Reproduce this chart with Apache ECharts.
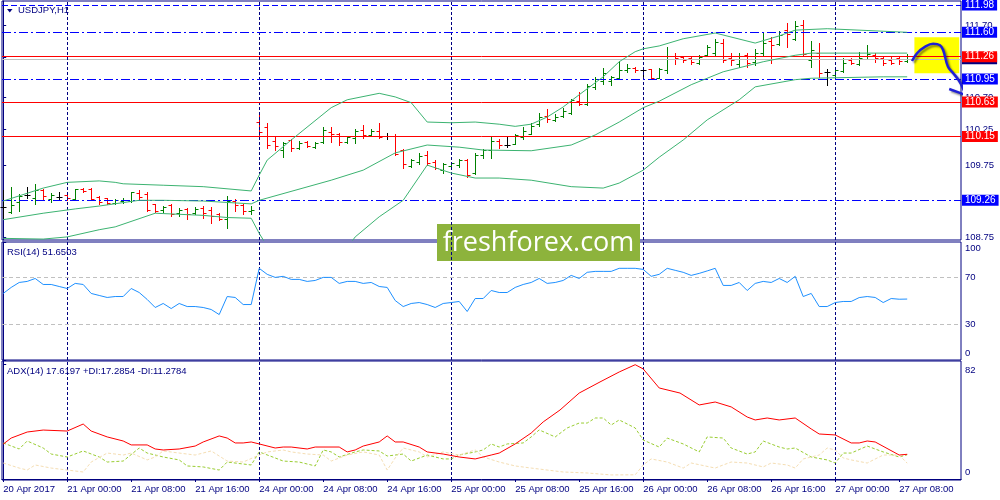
<!DOCTYPE html>
<html><head><meta charset="utf-8">
<script src="https://cdn.jsdelivr.net/npm/echarts@6/dist/echarts.min.js"></script>
<style>html,body{margin:0;padding:0;background:#fff}#c{width:1000px;height:500px}</style>
</head><body><div id="c"></div>
<script>
// ---------- DATA ----------
const tickIdx = [0,8,16,24,32,40,48,56,64,72,80,88,96,104,112];
const tickLabels = ['20 Apr 2017','21 Apr 00:00','21 Apr 08:00','21 Apr 16:00','24 Apr 00:00','24 Apr 08:00','24 Apr 16:00','25 Apr 00:00','25 Apr 08:00','25 Apr 16:00','26 Apr 00:00','26 Apr 08:00','26 Apr 16:00','27 Apr 00:00','27 Apr 08:00'];
const daySeparators = [8,32,56,80,104];

const opens = [109.17,109.10,109.24,109.33,109.29,109.40,109.28,109.31,109.33,109.28,
109.42,109.42,109.31,109.29,109.22,109.25,109.25,109.36,109.35,109.21,
109.12,109.19,109.08,109.14,109.08,109.15,109.12,109.07,109.00,109.25,
109.19,109.11,110.35,110.28,110.09,109.96,110.10,109.99,110.07,110.00,
110.07,110.21,110.18,110.07,110.13,110.24,110.17,110.23,110.16,110.16,
109.96,109.74,109.79,109.89,109.79,109.68,109.74,109.75,109.82,109.64,
109.89,109.96,110.09,110.03,110.04,110.14,110.18,110.32,110.43,110.38,
110.43,110.48,110.64,110.60,110.84,110.92,110.92,110.96,111.07,111.10,
111.07,111.09,110.96,111.07,111.27,111.26,111.24,111.17,111.28,111.31,
111.45,111.24,111.16,111.28,111.19,111.31,111.48,111.44,111.63,111.51,
111.70,111.21,111.31,111.05,111.00,111.06,111.21,111.16,111.27,111.28,
111.24,111.21,111.24,111.20];
const highs = [109.40,109.45,109.35,109.45,109.49,109.42,109.36,109.38,109.36,109.42,
109.43,109.43,109.32,109.29,109.28,109.29,109.38,109.40,109.38,109.21,
109.18,109.21,109.15,109.15,109.17,109.18,109.17,109.08,109.32,109.28,
109.21,109.18,110.46,110.34,110.14,110.07,110.11,110.09,110.09,110.07,
110.28,110.28,110.20,110.16,110.25,110.31,110.25,110.34,110.20,110.18,
109.97,109.84,109.92,109.95,109.82,109.78,109.79,109.84,109.84,109.92,
109.97,110.16,110.11,110.14,110.18,110.28,110.34,110.48,110.53,110.46,
110.55,110.67,110.77,110.88,110.98,111.10,110.99,111.20,111.16,111.12,
111.12,111.09,111.10,111.40,111.31,111.27,111.26,111.28,111.42,111.51,
111.51,111.31,111.31,111.31,111.37,111.60,111.53,111.62,111.73,111.76,
111.77,111.48,111.45,111.09,111.10,111.24,111.24,111.33,111.42,111.31,
111.26,111.26,111.26,111.30];
const lows = [109.01,109.08,109.11,109.29,109.21,109.26,109.24,109.26,109.26,109.26,
109.38,109.26,109.21,109.21,109.21,109.22,109.24,109.28,109.11,109.10,
109.10,109.04,109.04,109.00,109.07,109.01,108.94,108.99,108.87,109.11,
109.07,109.07,110.16,109.99,109.96,109.86,109.95,109.97,110.00,109.99,
110.06,110.07,110.03,110.06,110.06,110.13,110.16,110.13,110.11,109.89,
109.71,109.72,109.77,109.75,109.70,109.64,109.72,109.72,109.58,109.63,
109.85,109.85,109.99,110.00,110.04,110.11,110.18,110.29,110.35,110.36,
110.42,110.46,110.59,110.59,110.81,110.88,110.87,110.95,111.05,111.05,
110.99,110.96,110.96,111.03,111.16,111.19,111.16,111.16,111.27,111.28,
111.19,111.14,111.12,111.12,111.14,111.28,111.17,111.42,111.40,111.49,
111.28,111.12,110.98,110.87,110.99,111.05,111.16,111.14,111.24,111.19,
111.14,111.16,111.16,111.19];
const closes = [109.17,109.19,109.32,109.33,109.40,109.32,109.33,109.31,109.29,109.42,
109.39,109.28,109.24,109.22,109.26,109.26,109.38,109.31,109.12,109.11,
109.17,109.07,109.12,109.07,109.14,109.08,109.04,109.00,109.25,109.19,
109.11,109.12,110.21,110.03,110.02,110.06,109.99,110.06,110.02,110.06,
110.24,110.18,110.07,110.14,110.23,110.17,110.23,110.14,110.16,109.90,
109.77,109.82,109.88,109.78,109.71,109.77,109.78,109.82,109.61,109.89,
109.96,110.09,110.03,110.03,110.17,110.23,110.29,110.42,110.39,110.42,
110.50,110.66,110.60,110.85,110.95,111.03,110.98,111.07,111.10,111.07,
111.07,110.96,111.09,111.27,111.24,111.21,111.19,111.26,111.40,111.46,
111.21,111.21,111.27,111.17,111.31,111.45,111.42,111.56,111.58,111.69,
111.30,111.35,111.03,111.05,111.07,111.17,111.17,111.24,111.30,111.24,
111.17,111.17,111.20,111.23];

const bbUpper = [[0,109.25],[5,109.43],[8,109.51],[12,109.53],[14,109.51],[15,109.49],[20,109.47],[25,109.45],[31,109.39],[32,109.61],[33,109.82],[36,110.10],[41,110.55],[43,110.66],[47,110.75],[49,110.70],[51,110.62],[53,110.35],[56,110.34],[59,110.35],[62,110.32],[64,110.29],[66,110.32],[68,110.42],[70,110.56],[72,110.73],[75,110.98],[77,111.19],[79,111.33],[80,111.37],[82,111.41],[85,111.51],[89,111.59],[94,111.45],[97,111.55],[99,111.63],[103,111.65],[113,111.60]];
const bbMiddle = [[0,108.99],[5,109.08],[9,109.14],[12,109.18],[17,109.26],[20,109.26],[25,109.25],[31,109.21],[32,109.26],[41,109.54],[45,109.68],[49,109.92],[53,110.03],[57,110.00],[60,109.96],[66,109.95],[71,110.03],[74,110.17],[77,110.35],[80,110.55],[82,110.64],[86,110.87],[90,111.05],[95,111.19],[99,111.28],[101,111.31],[113,111.31]];
const bbLower = [[0,108.73],[5,108.72],[8,108.75],[12,108.85],[14,108.89],[19,109.08],[25,109.05],[28,109.02],[31,109.01],[32,108.80],[33,108.62],[36,108.45],[40,108.40],[43,108.60],[44,108.75],[47,109.03],[50,109.26],[53,109.75],[56,109.64],[59,109.57],[62,109.57],[66,109.54],[71,109.45],[75,109.43],[77,109.50],[80,109.68],[82,109.86],[85,110.10],[88,110.38],[92,110.66],[94,110.84],[99,110.94],[101,110.96],[110,110.98],[113,110.98]];

const rsi = [56.4,61.5,65.7,66.6,69.1,64.0,64.0,62.3,60.6,64.9,
64.0,56.4,54.7,53.0,53.8,53.8,60.6,57.2,51.3,44.5,
47.9,43.6,47.9,45.3,45.3,44.5,42.8,38.5,53.8,53.0,
47.0,47.0,77.7,72.6,70.0,70.9,68.3,68.3,66.6,67.4,
70.0,70.0,64.9,66.6,66.6,64.9,65.7,62.3,61.5,50.4,
45.3,47.9,48.7,47.0,44.5,47.9,48.7,49.6,41.1,52.1,
52.1,58.9,57.2,57.2,61.5,64.0,65.7,69.1,64.9,65.7,
67.4,71.7,69.1,74.3,75.1,75.1,75.1,77.7,77.7,77.7,
76.8,70.9,72.6,77.7,76.0,74.3,71.7,73.4,75.5,77.7,
63.2,63.2,65.7,58.9,64.9,66.6,65.7,69.1,65.7,70.9,
53.8,56.4,45.3,45.3,48.7,49.6,49.6,52.9,53.8,53.0,
48.7,52.1,51.5,51.6503];

const adx = [[0,24.9],[1,29.2],[3,33.5],[5,34.9],[8,34.2],[10,39.2],[11,34.2],[13,30.0],[15,27.1],[16,24.3],[18,24.3],[19,21.4],[20,20.7],[22,21.4],[24,23.5],[25,26.4],[27,30.7],[28,29.2],[29,25.7],[30,25.7],[31,26.4],[32,25.0],[34,22.1],[35,22.8],[36,22.8],[38,21.4],[39,22.8],[42,22.8],[43,19.3],[44,20.7],[45,23.5],[47,26.4],[48,30.7],[49,26.4],[50,26.4],[52,22.8],[53,19.3],[55,17.8],[57,15.7],[59,14.3],[61,17.1],[62,18.5],[64,25.0],[66,32.8],[67.5,40.7],[69.6,49.2],[72,61.3],[74.6,69.2],[77,76.3],[79,81.5],[80,78.5],[82,64.9],[84.6,61.3],[87,52.8],[89,54.9],[91,51.4],[93,44.2],[94,42.1],[95.5,43.5],[97,42.1],[99,43.5],[101,35.7],[102,32.1],[104,31.4],[106,25.7],[107,25.7],[108,27.1],[109,26.4],[112,17.1],[113,17.6197]];
const plusDI = [[0,25.7],[2,21.4],[3,27.1],[5,22.1],[6,17.8],[8,15.7],[10,20.0],[12,15.7],[13,12.1],[15,12.8],[17,22.1],[18,18.5],[20,15.7],[22,13.6],[23,9.3],[25,8.6],[27,6.4],[28,12.1],[30,10.7],[31,10.0],[32,19.3],[34,15.0],[35,12.8],[37,12.1],[39,9.3],[40,20.7],[41,19.3],[42,15.7],[44,19.3],[45,20.7],[47,20.0],[48,16.4],[50,17.8],[51,12.8],[53,17.1],[55,14.3],[56,14.3],[57,17.1],[59,19.3],[60,20.7],[61,25.0],[62,22.8],[63,25.0],[65,25.7],[66,30.0],[67,35.0],[69,30.0],[70.5,36.4],[72,39.9],[73,39.9],[74,43.5],[75,43.5],[76,38.5],[77,42.1],[79,36.4],[80,27.8],[82,22.8],[83,29.2],[85,25.0],[87,19.3],[88,30.0],[90,29.2],[91,22.1],[93,17.8],[94,19.3],[95,27.1],[97,22.8],[98,21.4],[99,22.1],[101,15.7],[103,13.6],[104,11.4],[105,18.5],[106,18.5],[108,23.5],[110,19.3],[112,15.7],[113,17.2854]];
const minusDI = [[0,11.4],[2,7.8],[3,6.4],[4,10.0],[6,7.8],[8,6.4],[10,5.0],[11,12.1],[13,18.5],[15,17.1],[16,18.5],[18,13.6],[19,15.7],[20,20.0],[22,18.5],[24,17.1],[26,20.0],[28,12.8],[30,12.1],[32,17.1],[33,19.3],[35,20.7],[36,19.3],[38,17.8],[40,17.1],[41,12.8],[43,17.1],[45,19.3],[47,17.1],[48,6.4],[49,15.0],[50,22.1],[52,19.3],[53,15.7],[55,19.3],[57,17.1],[59,20.7],[60,15.7],[62,12.1],[64,9.3],[66,7.8],[68,6.4],[70,5.0],[73,4.3],[76,2.9],[79,3.0],[80,10.0],[81,14.3],[83,12.1],[85,7.8],[86,11.4],[89,7.8],[90,10.0],[91,12.1],[93,11.4],[95,8.6],[96,11.4],[98,10.0],[99,7.8],[100,14.3],[102,17.1],[103,22.1],[104,20.7],[105,15.0],[106,13.6],[108,11.4],[110,17.1],[112,17.1],[113,11.2784]];

const blueLevels = [111.98, 111.60, 110.95, 109.26];
const redLevels = [111.26, 110.63, 110.15];
const bidLevel = 111.23;
const priceTicks = [108.75, 109.75, 110.25, 110.70, 111.25, 111.70];
const rsiTicks = [0, 30, 70, 100];
const rsiLevels = [70, 30];
const adxTicks = [0, 82];
const forecastBox = [[113.9, 111.53], [119.5, 111.03]];
const forecastPath = [[113.6,111.20],[114.25,111.31],[115.25,111.40],[116.25,111.44],[117.1,111.42],[117.5,111.35],[118.1,111.12],[118.75,111.03],[119.4,110.94],[119.9,110.84],[120.25,110.73]];
const forecastHead = [[118.25,110.81],[120.25,110.73],[120.25,110.89]];

// ---------- STYLE ----------
const NAVY = '#000080';
const FONT = 'Liberation Sans';
const FS = 9.5;

function xAxisFor(g, show) {
  return {
    type: 'value', gridIndex: g, min: -0.15, max: 119.725,
    splitLine: { show: false },
    axisLine: { show: show, lineStyle: { color: NAVY } },
    axisTick: { show: show, customValues: tickIdx, length: 3, lineStyle: { color: NAVY } },
    axisLabel: { show: show, customValues: tickIdx, formatter: v => tickLabels[tickIdx.indexOf(v)] || '',
      align: 'left', color: NAVY, fontSize: FS, fontFamily: FONT, margin: 4 }
  };
}
function yAxisFor(g, min, max, ticks, fmt) {
  return {
    type: 'value', gridIndex: g, position: 'right', min: min, max: max,
    splitLine: { show: false },
    axisLine: { show: true, lineStyle: { color: NAVY } },
    axisTick: { show: true, customValues: ticks, length: 3, lineStyle: { color: NAVY } },
    axisLabel: { customValues: ticks, formatter: fmt, color: NAVY, fontSize: FS, fontFamily: FONT, margin: 4,
      rich: {
        t: { padding: [12, 0, 0, 0], color: NAVY, fontSize: FS, fontFamily: FONT },
        b: { padding: [0, 0, 14, 0], color: NAVY, fontSize: FS, fontFamily: FONT }
      } }
  };
}
function boxLabel(bg) {
  return { show: true, position: 'end', distance: 1, formatter: p => Number(p.value).toFixed(2),
    color: '#fff', backgroundColor: bg, padding: [1, 3, 0, 3], fontSize: 10, lineHeight: 10, fontFamily: FONT };
}
const sepLine = { color: NAVY, type: [3, 2], width: 1 };
const sepData = daySeparators.map(i => ({ xAxis: i }));

const barData = opens.map((o, i) => [i, o, highs[i], lows[i], closes[i]]);

const option = {
  animation: false,
  backgroundColor: '#fff',
  grid: [
    { left: 2, right: 39, top: 1, height: 239, show: true, borderColor: NAVY, borderWidth: 1, backgroundColor: '#fff' },
    { left: 2, right: 39, top: 242, height: 118, show: true, borderColor: NAVY, borderWidth: 1, backgroundColor: '#fff' },
    { left: 2, right: 39, top: 361, height: 119, show: true, borderColor: NAVY, borderWidth: 1, backgroundColor: '#fff' }
  ],
  xAxis: [xAxisFor(0, false), xAxisFor(1, false), xAxisFor(2, true)],
  yAxis: [
    yAxisFor(0, 108.707, 112.036, priceTicks, v => v.toFixed(2)),
    yAxisFor(1, 0, 100, rsiTicks, v => v === 100 ? '{t|100}' : (v === 0 ? '{b|0}' : String(v))),
    yAxisFor(2, -0.71, 84.14, adxTicks, v => v === 82 ? '{t|82}' : (v === 0 ? '{b|0}' : String(v)))
  ],
  series: [
    { // forecast box
      type: 'line', xAxisIndex: 0, yAxisIndex: 0, data: [], z: 1, clip: false, silent: true,
      markArea: { silent: true, itemStyle: { color: '#ffff00', opacity: 1 }, label: { show: false },
        data: [[{ coord: forecastBox[0] }, { coord: forecastBox[1] }]] }
    },
    { // bid line
      type: 'line', xAxisIndex: 0, yAxisIndex: 0, data: [], z: 2, clip: false, silent: true,
      markLine: { silent: true, symbol: ['none', 'none'],
        data: [{ yAxis: bidLevel, lineStyle: { color: '#c0c0c0', type: 'solid', width: 1 }, label: boxLabel(NAVY) }] }
    },
    { // levels + separators
      type: 'line', xAxisIndex: 0, yAxisIndex: 0, data: [], z: 3, clip: false, silent: true,
      markLine: { silent: true, symbol: ['none', 'none'],
        data: sepData.map(d => Object.assign({ lineStyle: sepLine, label: { show: false } }, d))
          .concat(blueLevels.map((v, k) => ({ yAxis: v, lineStyle: { color: '#0000ff', width: 1, type: k === 0 ? [6, 3] : [9, 3, 2, 3] }, label: boxLabel('#0000ff') })))
          .concat(redLevels.map(v => ({ yAxis: v, lineStyle: { color: '#ff0000', width: 1, type: 'solid' }, label: boxLabel('#ff0000') })))
      }
    },
    { // OHLC bars
      type: 'custom', xAxisIndex: 0, yAxisIndex: 0, z: 4, data: barData,
      encode: { x: 0, y: [1, 2, 3, 4] },
      renderItem: function (params, api) {
        const i = api.value(0), o = api.value(1), h = api.value(2), l = api.value(3), c = api.value(4);
        const ph = api.coord([i, h]), pl = api.coord([i, l]), po = api.coord([i, o]), pc = api.coord([i, c]);
        const x = Math.round(ph[0]) + 0.5;
        const col = c > o ? '#008000' : (c < o ? '#ff0000' : '#000000');
        const yo = Math.round(po[1]) + 0.5, yc = Math.round(pc[1]) + 0.5;
        return { type: 'group', children: [
          { type: 'line', shape: { x1: x, y1: Math.round(ph[1]), x2: x, y2: Math.round(pl[1]) + 1 }, style: { stroke: col, lineWidth: 1 } },
          { type: 'line', shape: { x1: x - 3, y1: yo, x2: x, y2: yo }, style: { stroke: col, lineWidth: 1 } },
          { type: 'line', shape: { x1: x, y1: yc, x2: x + 3, y2: yc }, style: { stroke: col, lineWidth: 1 } }
        ] };
      }
    },
    { type: 'line', xAxisIndex: 0, yAxisIndex: 0, data: bbUpper, symbol: 'none', z: 5, lineStyle: { color: '#3cb371', width: 1 } },
    { type: 'line', xAxisIndex: 0, yAxisIndex: 0, data: bbMiddle, symbol: 'none', z: 5, lineStyle: { color: '#3cb371', width: 1 } },
    { type: 'line', xAxisIndex: 0, yAxisIndex: 0, data: bbLower, symbol: 'none', z: 5, lineStyle: { color: '#3cb371', width: 1 } },
    { // forecast arrow
      type: 'line', xAxisIndex: 0, yAxisIndex: 0, data: forecastPath, smooth: 0.4, symbol: 'none', clip: false, z: 7,
      lineStyle: { color: '#1f1fd6', width: 2.5, shadowColor: 'rgba(0,0,0,0.45)', shadowBlur: 2, shadowOffsetX: 2, shadowOffsetY: 2 }
    },
    {
      type: 'line', xAxisIndex: 0, yAxisIndex: 0, data: forecastHead, symbol: 'none', clip: false, z: 7,
      lineStyle: { color: '#1f1fd6', width: 2.5, shadowColor: 'rgba(0,0,0,0.45)', shadowBlur: 2, shadowOffsetX: 2, shadowOffsetY: 2 }
    },
    { // RSI
      type: 'line', xAxisIndex: 1, yAxisIndex: 1, data: rsi.map((v, i) => [i, v]), symbol: 'none', z: 5,
      lineStyle: { color: '#1e90ff', width: 1 },
      markLine: { silent: true, symbol: ['none', 'none'], label: { show: false },
        data: sepData.map(d => Object.assign({ lineStyle: sepLine }, d))
          .concat(rsiLevels.map(v => ({ yAxis: v, lineStyle: { color: '#c0c0c0', type: [4, 3], width: 1 } }))) }
    },
    { // ADX
      type: 'line', xAxisIndex: 2, yAxisIndex: 2, data: adx, symbol: 'none', z: 6,
      lineStyle: { color: '#ff0000', width: 1 },
      markLine: { silent: true, symbol: ['none', 'none'], label: { show: false },
        data: sepData.map(d => Object.assign({ lineStyle: sepLine }, d)) }
    },
    { type: 'line', xAxisIndex: 2, yAxisIndex: 2, data: plusDI, symbol: 'none', z: 5, lineStyle: { color: '#9acd32', width: 1, type: [3, 2] } },
    { type: 'line', xAxisIndex: 2, yAxisIndex: 2, data: minusDI, symbol: 'none', z: 5, lineStyle: { color: '#f5deb3', width: 1, type: [3, 2] } }
  ],
  graphic: [
    { type: 'polygon', shape: { points: [[7, 9], [12.5, 9], [9.75, 12.5]] }, style: { fill: NAVY }, z: 50 },
    { type: 'text', left: 18, top: 5, style: { text: 'USDJPY,H1', fill: NAVY, font: FS + 'px ' + FONT }, z: 50 },
    { type: 'text', left: 7, top: 247, style: { text: 'RSI(14) ' + rsi[rsi.length - 1].toFixed(4), fill: NAVY, font: FS + 'px ' + FONT }, z: 50 },
    { type: 'text', left: 7, top: 366, style: { text: 'ADX(14) ' + adx[adx.length - 1][1].toFixed(4) + ' +DI:' + plusDI[plusDI.length - 1][1].toFixed(4) + ' -DI:' + minusDI[minusDI.length - 1][1].toFixed(4), fill: NAVY, font: FS + 'px ' + FONT }, z: 50 },
    { type: 'group', left: 437, top: 224, z: 100, children: [
      { type: 'rect', shape: { x: 0, y: 0, width: 203, height: 37 }, style: { fill: '#8db33c' } },
      { type: 'text', x: 101.5, y: 19, style: { text: 'freshforex.com', fill: '#fff', font: '27px "Open Sans"', align: 'center', verticalAlign: 'middle' } }
    ] }
  ]
};
const chart = echarts.init(document.getElementById('c'), null, { renderer: 'canvas' });
chart.setOption(option);
</script>
</body></html>
